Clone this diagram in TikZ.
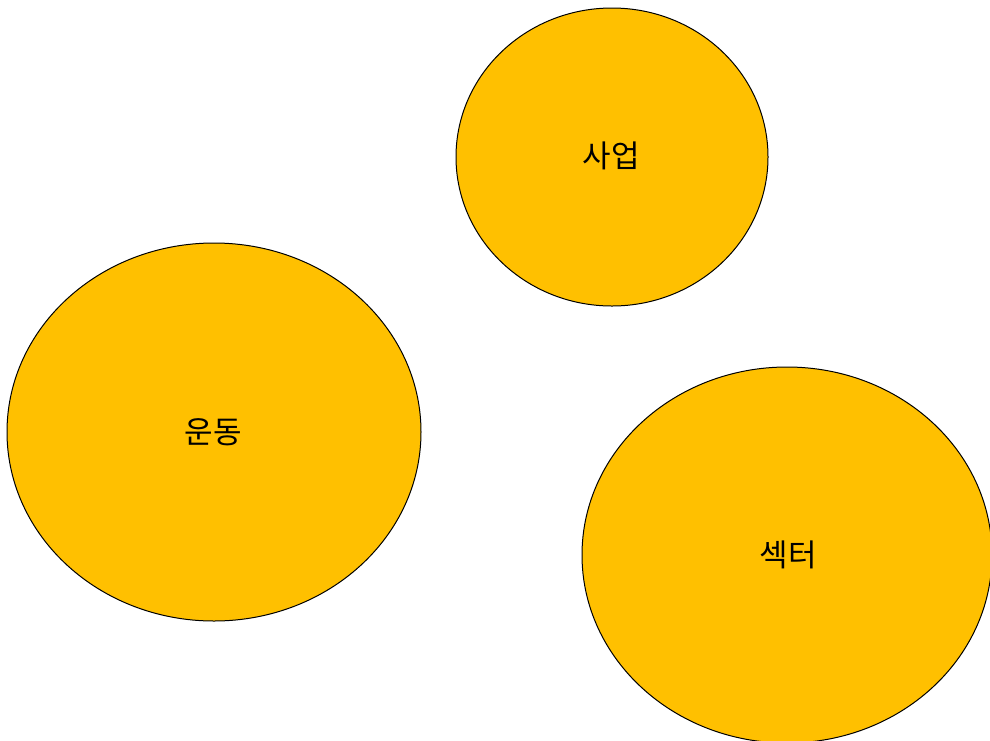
\documentclass[tikz,border=0pt]{standalone}
\usepackage{fontspec}
\newfontfamily\kr{Noto Sans CJK KR}
\definecolor{gold}{HTML}{FFC000}
\begin{document}
\begin{tikzpicture}[x=1pt,y=-1pt,
  blob/.style={draw=black,line width=1pt,fill=gold},
  lbl/.style={font=\kr\fontsize{31}{36}\selectfont,text=black}]
\useasboundingbox (0,0) rectangle (990,740);
\begin{scope}
\clip (0,0) rectangle (990,740);
\draw[blob] (612,157) ellipse [x radius=156, y radius=149];
\draw[blob] (214,432) ellipse [x radius=207, y radius=189];
\draw[blob] (787,555) ellipse [x radius=205, y radius=188];
\end{scope}
\node[lbl] (a) at (611,156) {사업};
\node[lbl] (b) at (213,432) {운동};
\node[lbl] (c) at (788,555) {섹터};
\end{tikzpicture}
\end{document}
